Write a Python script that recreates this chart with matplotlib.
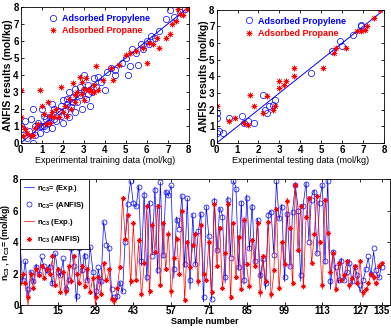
import matplotlib
matplotlib.use("Agg")
import matplotlib.pyplot as plt
import numpy as np

plt.rcParams['font.family'] = ['Liberation Sans', 'DejaVu Sans']
plt.rcParams['mathtext.fontset'] = 'custom'
plt.rcParams['mathtext.rm'] = 'Liberation Sans:bold'
plt.rcParams['mathtext.bf'] = 'Liberation Sans:bold'
plt.rcParams['mathtext.it'] = 'Liberation Sans:bold'

# ---- bottom panel: sample series (1..135) ----
propylene_exp = [4.0, 1.5, 2.8, 0.3, 2.2, 1.4, 2.6, 1.8, 3.0, 2.4,
                 2.0, 2.6, 1.2, 3.3, 2.2, 1.8, 2.9, 0.6, 1.5, 3.6,
                 2.4, 0.2, 3.6, 2.0, 3.3, 1.5, 3.7, 2.2, 0.4, 2.3,
                 1.2, 5.3, 4.0, 3.5, 0.8, 0.1, 0.4, 1.5, 0.8, 4.2,
                 6.6, 7.9, 6.4, 6.2, 7.6, 2.5, 7.2, 1.5, 6.6, 3.2,
                 7.5, 2.0, 7.8, 3.0, 7.3, 6.9, 7.6, 1.7, 5.6, 4.9,
                 7.0, 2.4, 6.8, 1.0, 5.8, 2.5, 4.5, 5.9, 0.2, 6.3,
                 4.3, 0.3, 6.8, 3.4, 6.2, 5.7, 1.4, 6.9, 3.1, 7.9,
                 7.5, 2.2, 6.6, 1.3, 7.0, 3.5, 6.4, 2.6, 5.5, 1.7,
                 3.0, 1.0, 5.8, 6.0, 3.3, 7.9, 5.4, 6.4, 1.5, 5.9,
                 2.4, 6.0, 7.6, 6.2, 1.5, 6.5, 7.8, 4.1, 6.9, 7.3,
                 3.2, 6.6, 7.7, 2.6, 8.0, 1.0, 3.5, 2.2, 1.4, 3.0,
                 1.5, 2.0, 2.9, 1.3, 2.5, 1.8, 0.8, 1.5, 2.2, 3.0,
                 1.9, 3.4, 2.0, 1.7, 2.6]
propylene_anfis = [4.0, 1.6, 2.8, 1.0, 2.1, 1.5, 2.4, 2.0, 3.1, 2.5,
                   2.2, 2.4, 1.4, 3.3, 2.1, 1.9, 3.0, 1.0, 1.6, 3.6,
                   2.5, 0.6, 3.6, 2.2, 3.1, 1.6, 3.7, 2.1, 0.9, 2.4,
                   1.5, 5.3, 3.8, 3.6, 1.0, 0.5, 0.6, 1.4, 0.9, 4.0,
                   6.4, 7.9, 6.5, 6.3, 7.5, 2.8, 7.0, 1.8, 6.5, 3.1,
                   7.3, 2.2, 7.8, 3.2, 7.2, 7.0, 7.6, 2.3, 5.4, 4.8,
                   6.9, 2.6, 6.8, 1.6, 5.7, 2.6, 4.7, 5.8, 0.5, 6.2,
                   4.4, 0.4, 6.6, 3.5, 6.1, 5.6, 1.8, 6.7, 3.0, 7.9,
                   7.4, 2.4, 6.5, 1.6, 6.8, 3.6, 6.2, 2.8, 5.4, 1.9,
                   2.9, 1.4, 5.7, 5.9, 3.2, 7.9, 5.5, 6.2, 1.8, 5.8,
                   2.5, 5.9, 7.6, 6.0, 1.9, 6.3, 7.7, 4.0, 6.7, 7.2,
                   3.3, 6.5, 7.6, 2.8, 7.9, 1.5, 3.4, 2.4, 1.6, 2.8,
                   1.6, 2.1, 2.7, 1.5, 2.4, 1.9, 1.3, 1.6, 2.3, 3.1,
                   2.0, 3.6, 2.2, 1.8, 2.4]
propane_exp = [1.5, 2.0, 1.2, 0.0, 2.0, 1.0, 2.3, 1.8, 2.6, 1.6,
               2.4, 1.9, 2.9, 1.2, 2.4, 0.8, 2.2, 0.7, 2.5, 1.3,
               3.2, 1.9, 1.4, 2.6, 1.0, 2.2, 0.7, 1.8, 0.0, 1.6,
               0.6, 2.7, 1.4, 2.2, 0.3, 0.0, 1.0, 2.5, 6.8, 4.2,
               5.7, 1.2, 5.2, 1.6, 4.0, 0.5, 2.6, 6.3, 0.6, 5.3,
               3.4, 6.4, 1.1, 5.2, 2.2, 4.7, 0.5, 3.0, 4.4, 1.9,
               6.1, 0.2, 4.1, 2.2, 3.8, 4.6, 1.2, 5.2, 2.0, 1.5,
               4.1, 0.6, 6.5, 2.4, 5.0, 1.0, 3.1, 6.6, 0.3, 5.3,
               1.6, 4.4, 0.9, 5.6, 2.5, 1.0, 4.2, 2.4, 5.3, 0.5,
               3.0, 1.4, 5.4, 0.4, 2.0, 6.2, 0.9, 4.0, 2.5, 6.8,
               5.0, 1.2, 7.8, 3.4, 6.4, 1.0, 5.7, 6.9, 2.6, 4.4,
               7.0, 3.9, 1.0, 6.8, 4.5, 2.0, 3.4, 0.8, 2.6, 1.4,
               1.8, 2.7, 1.0, 1.6, 2.4, 1.2, 2.9, 0.5, 0.8, 1.3,
               2.0, 1.6, 1.2, 2.6, 2.7]
propane_anfis = [1.4, 2.0, 1.4, 0.5, 2.0, 1.1, 2.3, 1.9, 2.5, 1.7,
                 2.3, 2.0, 3.1, 1.3, 2.3, 0.8, 2.1, 0.9, 2.5, 1.5,
                 3.1, 2.0, 1.4, 2.5, 1.2, 2.3, 0.8, 1.7, 0.5, 1.8,
                 0.7, 2.7, 1.6, 2.3, 0.4, 0.3, 1.1, 2.4, 6.8, 4.2,
                 5.7, 1.5, 5.2, 1.6, 4.1, 0.7, 2.7, 6.3, 0.9, 5.1,
                 3.4, 6.3, 1.3, 5.2, 2.3, 4.5, 0.9, 3.0, 4.2, 2.0,
                 6.0, 0.3, 4.0, 2.4, 3.8, 4.5, 1.5, 5.1, 2.0, 1.6,
                 4.0, 0.8, 6.4, 2.5, 4.9, 1.1, 3.3, 6.4, 0.5, 5.2,
                 1.8, 4.3, 1.0, 5.4, 2.6, 1.2, 4.1, 2.5, 5.2, 0.8,
                 3.1, 1.5, 5.3, 0.7, 2.2, 6.1, 1.1, 4.0, 2.6, 6.6,
                 4.9, 1.4, 7.6, 3.5, 6.3, 1.2, 5.6, 6.8, 2.7, 4.5,
                 6.9, 4.0, 1.3, 6.7, 4.6, 2.1, 3.3, 1.0, 2.7, 1.6,
                 1.9, 2.8, 1.3, 1.7, 2.5, 1.4, 2.8, 0.8, 1.0, 1.4,
                 2.0, 1.8, 1.4, 2.5, 2.7]
sample_ticks = [1, 15, 29, 43, 57, 71, 85, 99, 113, 127, 135]

# ---- top-left panel: training data ----
train_propylene_exp = [0.0, 0.1, 0.5, 0.6, 0.6, 0.7, 0.8, 0.9, 1.0, 1.0, 1.1, 1.2,
                       1.3, 1.4, 1.5, 1.6, 1.7, 1.8, 1.9, 2.0, 2.0, 2.2, 2.3, 2.4,
                       2.5, 2.6, 2.7, 2.8, 2.9, 3.0, 3.1, 3.2, 3.4, 3.5, 3.6, 3.8,
                       4.0, 4.1, 4.3, 4.5, 4.8, 5.0, 5.1, 5.2, 5.3, 5.5, 5.7, 5.8,
                       6.0, 6.2, 6.4, 6.6, 6.9, 7.1, 7.3, 7.6, 7.8, 3.0, 2.3, 1.5,
                       0.3, 0.2, 2.6, 3.3, 4.5, 1.2, 0.9, 2.1, 2.8, 3.7, 5.6, 6.1,
                       0.4, 1.1, 1.9, 2.5, 3.2, 0.7, 1.6, 2.2]
train_propylene_anfis = [1.0, 0.8, 1.4, 2.0, 0.0, 0.5, 1.2, 0.6, 1.0, 2.0, 1.6, 0.8,
                         1.2, 1.5, 0.9, 2.0, 1.3, 1.9, 1.6, 1.2, 2.5, 2.3, 1.5, 2.1,
                         2.7, 3.2, 2.4, 2.8, 2.0, 3.1, 2.6, 3.4, 3.0, 3.8, 3.3, 3.6,
                         3.1, 4.2, 4.4, 4.0, 4.7, 5.0, 4.0, 4.5, 5.5, 5.3, 5.8, 5.5,
                         6.0, 6.3, 6.2, 6.6, 7.3, 7.8, 7.4, 7.7, 7.9, 4.0, 3.0, 2.3,
                         0.3, 1.3, 1.8, 2.2, 4.3, 1.4, 1.0, 1.9, 3.3, 3.9, 4.6, 5.8,
                         0.7, 1.0, 2.2, 2.4, 2.9, 1.0, 1.4, 2.6]
train_propane_exp = [0.0, 0.0, 0.0, 0.1, 0.2, 0.5, 0.7, 0.9, 1.0, 1.1, 1.3, 1.4,
                     1.5, 1.6, 1.8, 1.9, 2.0, 2.1, 2.3, 2.4, 2.5, 2.6, 2.7, 2.8,
                     2.9, 3.0, 3.1, 3.2, 3.3, 3.4, 3.5, 3.6, 3.7, 4.3, 4.4, 5.0,
                     5.2, 5.5, 6.0, 6.1, 6.3, 6.5, 6.6, 6.9, 7.1, 7.2, 7.4, 7.5,
                     7.6, 7.7, 7.9, 1.2, 0.6, 2.2, 3.9, 4.7, 5.8, 2.9, 1.7, 3.0,
                     0.3, 0.8, 1.4, 2.6, 3.5]
train_propane_anfis = [3.1, 1.5, 1.0, 0.4, 0.8, 0.4, 0.9, 3.1, 2.2, 1.7, 2.4, 1.2,
                       1.8, 1.5, 1.5, 3.3, 1.8, 2.2, 2.6, 2.0, 3.5, 2.8, 3.0, 3.9,
                       3.6, 2.5, 3.8, 3.1, 3.2, 3.0, 3.4, 4.5, 3.1, 4.4, 3.7, 5.2,
                       5.3, 5.4, 4.7, 5.9, 5.8, 6.2, 5.6, 6.2, 6.4, 7.0, 7.2, 7.9,
                       7.6, 7.5, 7.9, 1.1, 0.5, 1.6, 3.7, 4.6, 5.6, 2.9, 2.0, 3.2,
                       0.6, 1.1, 1.6, 2.4, 3.0]

# ---- top-right panel: testing data ----
test_propylene_exp = [0.0, 0.0, 0.0, 0.1, 0.3, 0.6, 1.2, 1.3, 1.5, 1.8, 2.2, 2.3,
                      2.4, 2.5, 2.7, 2.8, 4.5, 5.5, 5.9, 6.0, 6.5, 6.9, 6.9]
test_propylene_anfis = [1.8, 1.5, 0.6, 0.7, 0.6, 1.5, 1.6, 1.2, 1.3, 1.2, 2.9, 2.0,
                        1.8, 2.2, 2.3, 2.6, 4.2, 5.5, 6.1, 5.8, 6.5, 7.0, 7.1]
test_propane_exp = [0.0, 0.6, 0.9, 1.3, 1.5, 1.6, 1.8, 2.2, 2.4, 2.7, 2.8, 3.0,
                    3.0, 3.2, 3.3, 3.7, 3.7, 5.1, 5.6, 5.7, 6.2, 6.7, 6.9, 7.1,
                    7.2, 7.5, 7.8]
test_propane_anfis = [2.2, 1.3, 1.5, 1.2, 1.1, 2.9, 2.2, 1.8, 2.8, 2.0, 2.2, 3.7,
                      3.3, 3.5, 3.7, 4.0, 4.5, 4.5, 5.4, 5.7, 5.7, 6.7, 6.7, 6.8,
                      7.0, 7.5, 8.0]

axis_ticks = [0, 1, 2, 3, 4, 5, 6, 7, 8]
blue = (0, 0, 1)
red = (1, 0, 0)
star = (8, 2, 0)

fig = plt.figure(figsize=(3.91, 3.28), dpi=100)

def style(ax):
    ax.tick_params(direction='in', top=True, right=True, length=2.5, width=0.6,
                   labelsize=7, pad=1.5)
    for lab in ax.get_xticklabels() + ax.get_yticklabels():
        lab.set_fontweight('bold')
    for s in ax.spines.values():
        s.set_linewidth(0.6)

def scatter_panel(ax, xe1, ya1, xe2, ya2, xlabel, ylab_x):
    ax.plot([0, 8], [0, 8], color=blue, lw=0.7)
    ax.plot(xe1, ya1, linestyle='none', marker='o', mfc='none', mec=blue,
            ms=4.5, mew=0.5, label='Adsorbed Propylene')
    ax.plot(xe2, ya2, linestyle='none', marker=star, color=red,
            ms=4.0, mew=0.5, label='Adsorbed Propane')
    ax.set_xlim(0, 8)
    ax.set_ylim(0, 8)
    ax.set_xticks(axis_ticks)
    ax.set_yticks(axis_ticks)
    style(ax)
    ax.set_xlabel(xlabel, fontsize=6.5, labelpad=1)
    ax.set_ylabel('ANFIS results (mol/kg)', fontsize=7.5, fontweight='bold')
    ax.yaxis.set_label_coords(ylab_x, 0.5)
    leg = ax.legend(loc='upper left', bbox_to_anchor=(0.13, 0.99), frameon=False,
                    fontsize=6.5, handletextpad=0.4, handlelength=1.2,
                    labelspacing=0.35, borderaxespad=0.2)
    for t, c in zip(leg.get_texts(), [blue, red]):
        t.set_color(c)
        t.set_fontweight('bold')

ax1 = fig.add_axes([0.053, 0.564, 0.430, 0.415])
scatter_panel(ax1, train_propylene_exp, train_propylene_anfis,
              train_propane_exp, train_propane_anfis,
              'Experimental training data (mol/kg)', -0.045)

ax2 = fig.add_axes([0.554, 0.564, 0.428, 0.406])
scatter_panel(ax2, test_propylene_exp, test_propylene_anfis,
              test_propane_exp, test_propane_anfis,
              'Experimental testing data (mol/kg)', -0.045)

ax3 = fig.add_axes([0.051, 0.070, 0.946, 0.384])
samples = np.arange(1, len(propylene_exp) + 1)
ax3.plot(samples, propylene_exp, color=blue, lw=0.5, label=r'n$_{C3}$= (Exp.)')
ax3.plot(samples, propylene_anfis, linestyle='none', marker='o', mfc='none',
         mec=blue, ms=3.6, mew=0.5, label=r'n$_{C3}$= (ANFIS)')
ax3.plot(samples, propane_exp, color=red, lw=0.5, label=r'n$_{C3}$ (Exp.)')
ax3.plot(samples, propane_anfis, linestyle='none', marker=star, color=red,
         ms=3.6, mew=0.5, label=r'n$_{C3}$ (ANFIS)')
ax3.set_xlim(1, 138)
ax3.set_ylim(0, 8)
ax3.set_xticks(sample_ticks)
ax3.set_yticks([0, 2, 4, 6, 8])
style(ax3)
ax3.tick_params(axis='x', pad=1)
ax3.tick_params(axis='y', pad=1)
ax3.set_xlabel('Sample number', fontsize=6.5, fontweight='bold', labelpad=0.5)
ax3.set_ylabel(r'n$_{C3}$ , n$_{C3}$= (mol/kg)', fontsize=6.3, fontweight='bold')
ax3.yaxis.set_label_coords(-0.021, 0.5)
leg3 = ax3.legend(loc='upper left', fontsize=5.5, frameon=True, fancybox=False,
                  edgecolor='black', framealpha=1, borderaxespad=0,
                  handlelength=1.3, handletextpad=0.4, labelspacing=0.8,
                  borderpad=0.5)
leg3.get_frame().set_linewidth(0.6)
for t in leg3.get_texts():
    t.set_fontweight('bold')

fig.savefig('out.png', dpi=100)
